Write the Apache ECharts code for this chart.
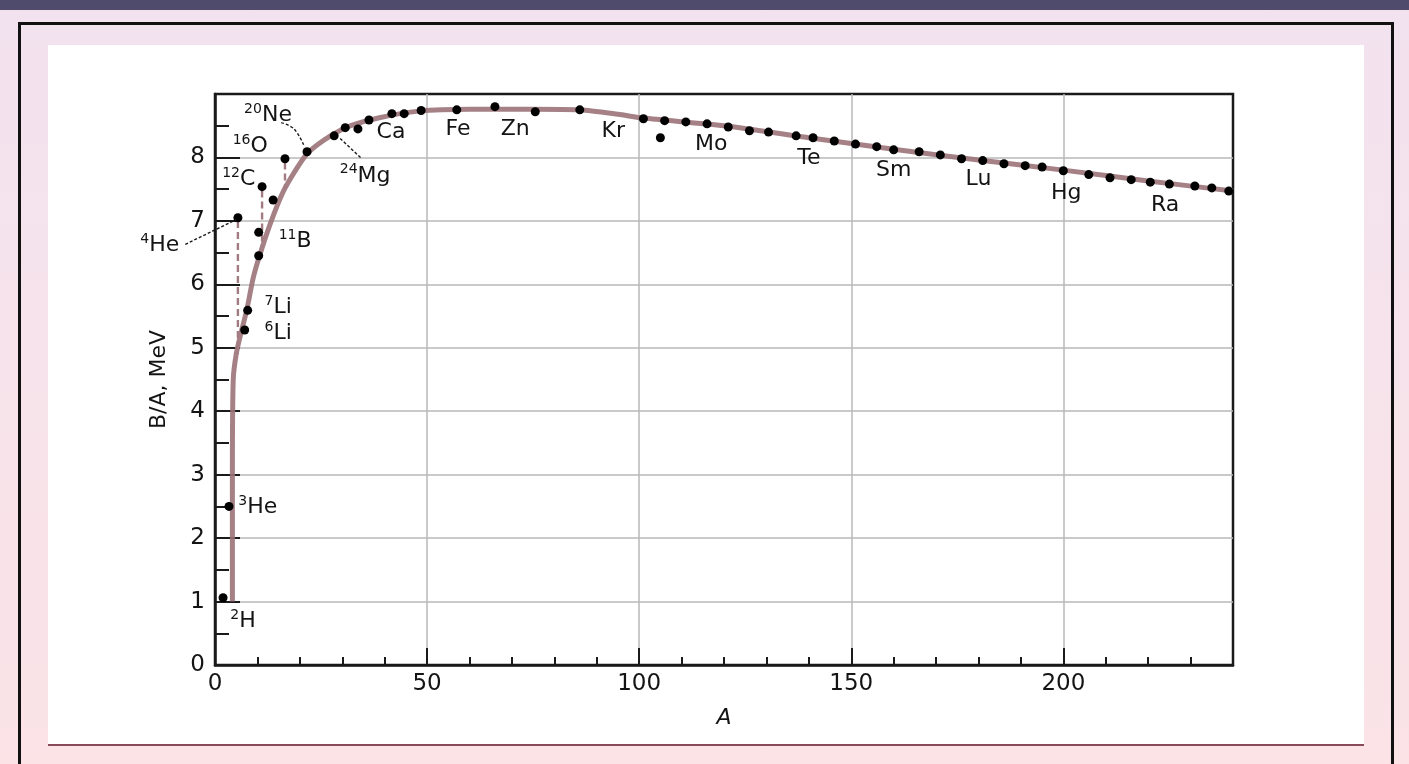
<!DOCTYPE html>
<html>
<head>
<meta charset="utf-8">
<title>Binding energy per nucleon</title>
<script src="https://cdn.jsdelivr.net/npm/echarts@6/dist/echarts.min.js"></script>
<style>
  html, body { margin: 0; padding: 0; }
  body {
    width: 1409px; height: 764px; overflow: hidden; position: relative;
    background: linear-gradient(to bottom, #f2e2ef 0%, #f7e3ea 55%, #fbe3e6 100%);
  }
  #topband { position: absolute; left: 0; top: 0; width: 1409px; height: 10px; background: #4f4b6d; }
  #frame { position: absolute; left: 18px; top: 22px; width: 1370px; height: 800px; border: 3px solid #111; }
  #panel { position: absolute; left: 48px; top: 45px; width: 1316px; height: 699px; background: #fff; border-bottom: 2px solid #8a4a58; }
  #chart { width: 1316px; height: 699px; }
</style>
</head>
<body>
<div id="topband"></div>
<div id="frame"></div>
<div id="panel"><div id="chart"></div></div>
<script>
// Measured binding energy per nucleon, B/A (MeV), against mass number A
const massNumber = [
  1.9, 3.3, 5.4, 7.0, 7.7, 10.3, 10.3, 11.1, 13.7, 16.5, 21.7, 28.1, 30.7, 33.7, 36.3,
  41.7, 44.6, 48.6, 57, 66, 75.5, 86, 101, 105, 106, 111, 116, 121, 126, 130.5,
  137, 141, 146, 151, 156, 160, 166, 171, 176, 181, 186, 191, 195, 200, 206,
  211, 216, 220.5, 225, 231, 235, 239
];
const bindingPerNucleon = [
  1.06, 2.50, 7.05, 5.28, 5.59, 6.45, 6.82, 7.54, 7.33, 7.98, 8.09, 8.34, 8.47, 8.45, 8.59,
  8.69, 8.69, 8.74, 8.75, 8.80, 8.72, 8.75, 8.61, 8.31, 8.58, 8.56, 8.53, 8.48, 8.42, 8.40,
  8.34, 8.31, 8.26, 8.21, 8.17, 8.12, 8.09, 8.04, 7.98, 7.95, 7.90, 7.87, 7.85, 7.79, 7.73,
  7.68, 7.65, 7.61, 7.58, 7.55, 7.52, 7.47
];

// Smooth trend curve through the measurements
const trendA = [4.1, 4.1, 4.3, 5.0, 6.0, 7.5, 9.0, 10.5, 13.0, 16.0, 19.5, 22.0, 27.5, 32.0, 39.0,
  48.0, 60.0, 75.0, 86.0, 95.0, 101.0, 120.0, 140.0, 160.0, 180.0, 200.0, 220.0, 240.0];
const trendB = [1.00, 3.00, 4.50, 4.90, 5.20, 5.60, 6.10, 6.45, 6.95, 7.45, 7.85, 8.08, 8.35, 8.50, 8.63,
  8.73, 8.76, 8.76, 8.75, 8.68, 8.62, 8.50, 8.31, 8.13, 7.96, 7.80, 7.63, 7.47];

// Dashed drops under the light-nucleus peaks (4He, 12C, 16O)
const dropHeA = [5.4, 5.4], dropHeB = [7.0, 4.9];
const dropCA = [11.1, 11.1], dropCB = [7.48, 6.6];
const dropOA = [16.5, 16.5], dropOB = [7.92, 7.5];

// Axis tick values
const xTicks = [0, 50, 100, 150, 200];
const yTicks = [0, 1, 2, 3, 4, 5, 6, 7, 8];

// Nuclide tags: mass-number superscript, symbol, anchor (A, B/A)
const tagSup = ['20', '16', '12', '4', '11', '7', '6', '3', '2', '24', '', '', '', '', '', '', '', '', '', ''];
const tagSym = ['Ne', 'O', 'C', 'He', 'B', 'Li', 'Li', 'He', 'H', 'Mg', 'Ca', 'Fe', 'Zn', 'Kr', 'Mo', 'Te', 'Sm', 'Lu', 'Hg', 'Ra'];
const tagA = [12.5, 8.3, 5.6, -13, 18.9, 14.9, 14.9, 10.1, 6.6, 35.4, 41.5, 57.3, 70.8, 93.9, 117, 140, 160, 180, 200.7, 224];
const tagB = [8.67, 8.17, 7.66, 6.62, 6.68, 5.64, 5.23, 2.48, 0.69, 7.71, 8.39, 8.44, 8.44, 8.42, 8.20, 7.98, 7.80, 7.66, 7.44, 7.24];

// Leader lines from tags to their points
const leadNeA = [15.6, 18.6, 20.9], leadNeB = [8.55, 8.45, 8.20];
const leadHeA = [-7.0, 5.0], leadHeB = [6.63, 7.02];
const leadMgA = [29.5, 34.6], leadMgB = [8.30, 7.98];

const zip = (a, b) => a.map((v, i) => [v, b[i]]);

const FONT = '"DejaVu Sans", "Liberation Sans", Arial, sans-serif';
const INK = '#1a1a1a';
const TEXT = '#141414';

const chart = echarts.init(document.getElementById('chart'), null, { renderer: 'canvas' });

const leaderStyle = { color: INK, width: 1.4, type: [3, 2] };
const dropStyle = { color: '#a27a81', width: 2.4, type: [7, 4] };

chart.setOption({
  backgroundColor: '#ffffff',
  animation: false,
  grid: { left: 167, top: 49, right: 131, bottom: 79, show: true, borderColor: INK, borderWidth: 2.5, backgroundColor: 'transparent' },
  xAxis: [
    {
      type: 'value', min: 0, max: 240, interval: 10, position: 'bottom',
      axisLine: { show: true, lineStyle: { color: INK, width: 2.5 } },
      axisTick: { show: true, inside: true, length: 8, lineStyle: { color: INK, width: 2 } },
      axisLabel: {
        margin: 8, fontSize: 23, color: TEXT, fontFamily: FONT,
        formatter: v => (xTicks.indexOf(v) >= 0 ? String(v) : '')
      },
      splitLine: { show: false },
      name: 'A', nameLocation: 'middle', nameGap: 42,
      nameTextStyle: { fontSize: 22, fontStyle: 'italic', color: TEXT, fontFamily: FONT }
    },
    {
      type: 'value', min: 0, max: 240, interval: 50, position: 'bottom',
      axisLine: { show: false },
      axisTick: { show: true, inside: true, length: 17, lineStyle: { color: INK, width: 2 } },
      axisLabel: { show: false },
      splitLine: { show: true, showMinLine: false, showMaxLine: false, lineStyle: { color: '#b8b8b8', width: 1.5 } }
    }
  ],
  yAxis: [
    {
      type: 'value', min: 0, max: 9, interval: 0.5, position: 'left',
      axisLine: { show: true, lineStyle: { color: INK, width: 2.5 } },
      axisTick: { show: true, inside: true, length: 14, lineStyle: { color: INK, width: 2 } },
      axisLabel: {
        margin: 10, fontSize: 23, color: TEXT, fontFamily: FONT,
        formatter: v => (yTicks.indexOf(v) >= 0 ? String(v) : '')
      },
      splitLine: { show: false },
      name: 'B/A, MeV', nameLocation: 'middle', nameGap: 45,
      nameTextStyle: { fontSize: 22, color: TEXT, fontFamily: FONT }
    },
    {
      type: 'value', min: 0, max: 9, interval: 1, position: 'left',
      axisLine: { show: false },
      axisTick: { show: true, inside: true, length: 25, lineStyle: { color: INK, width: 2 } },
      axisLabel: { show: false },
      splitLine: { show: true, showMinLine: false, showMaxLine: false, lineStyle: { color: '#b8b8b8', width: 1.5 } }
    }
  ],
  series: [
    {
      name: 'trend', type: 'line', data: zip(trendA, trendB), showSymbol: false, smooth: 0.25,
      lineStyle: { color: 'rgba(155,115,121,0.9)', width: 5 }, z: 2, silent: true
    },
    { name: 'drop He', type: 'line', data: zip(dropHeA, dropHeB), showSymbol: false, lineStyle: dropStyle, z: 2 },
    { name: 'drop C', type: 'line', data: zip(dropCA, dropCB), showSymbol: false, lineStyle: dropStyle, z: 2 },
    { name: 'drop O', type: 'line', data: zip(dropOA, dropOB), showSymbol: false, lineStyle: dropStyle, z: 2 },
    { name: 'lead Ne', type: 'line', data: zip(leadNeA, leadNeB), showSymbol: false, smooth: 0.4, lineStyle: leaderStyle, z: 3 },
    { name: 'lead Mg', type: 'line', data: zip(leadMgA, leadMgB), showSymbol: false, lineStyle: leaderStyle, z: 3 },
    {
      name: 'nuclides', type: 'scatter', data: zip(massNumber, bindingPerNucleon),
      symbol: 'circle', symbolSize: 9, itemStyle: { color: '#000', opacity: 1 }, z: 4
    },
    {
      name: 'tags', type: 'scatter', symbolSize: 0, clip: false, z: 5, silent: true,
      itemStyle: { color: '#000', opacity: 1 },
      data: tagSym.map((s, i) => ({ value: [tagA[i], tagB[i]], sup: tagSup[i], sym: s })),
      label: {
        show: true, position: 'inside', align: 'center', verticalAlign: 'middle',
        color: TEXT, textBorderWidth: 0, opacity: 1,
        formatter: p => (p.data.sup ? '{s|' + p.data.sup + '}' : '') + '{b|' + p.data.sym + '}',
        rich: {
          s: { fontSize: 14, color: TEXT, fontFamily: FONT, verticalAlign: 'top', lineHeight: 14 },
          b: { fontSize: 22, color: TEXT, fontFamily: FONT, lineHeight: 26 }
        }
      }
    }
  ]
});

// The 4He leader starts left of the y axis, outside the plot area,
// so it is drawn as a free polyline placed through the grid's own scales.
const hePts = zip(leadHeA, leadHeB).map(p => chart.convertToPixel({ gridIndex: 0 }, p));
chart.setOption({
  graphic: [{
    type: 'polyline', z: 10, silent: true,
    shape: { points: hePts },
    style: { stroke: INK, lineWidth: 1.4, lineDash: [3, 2], fill: null }
  }]
});
</script>
</body>
</html>
